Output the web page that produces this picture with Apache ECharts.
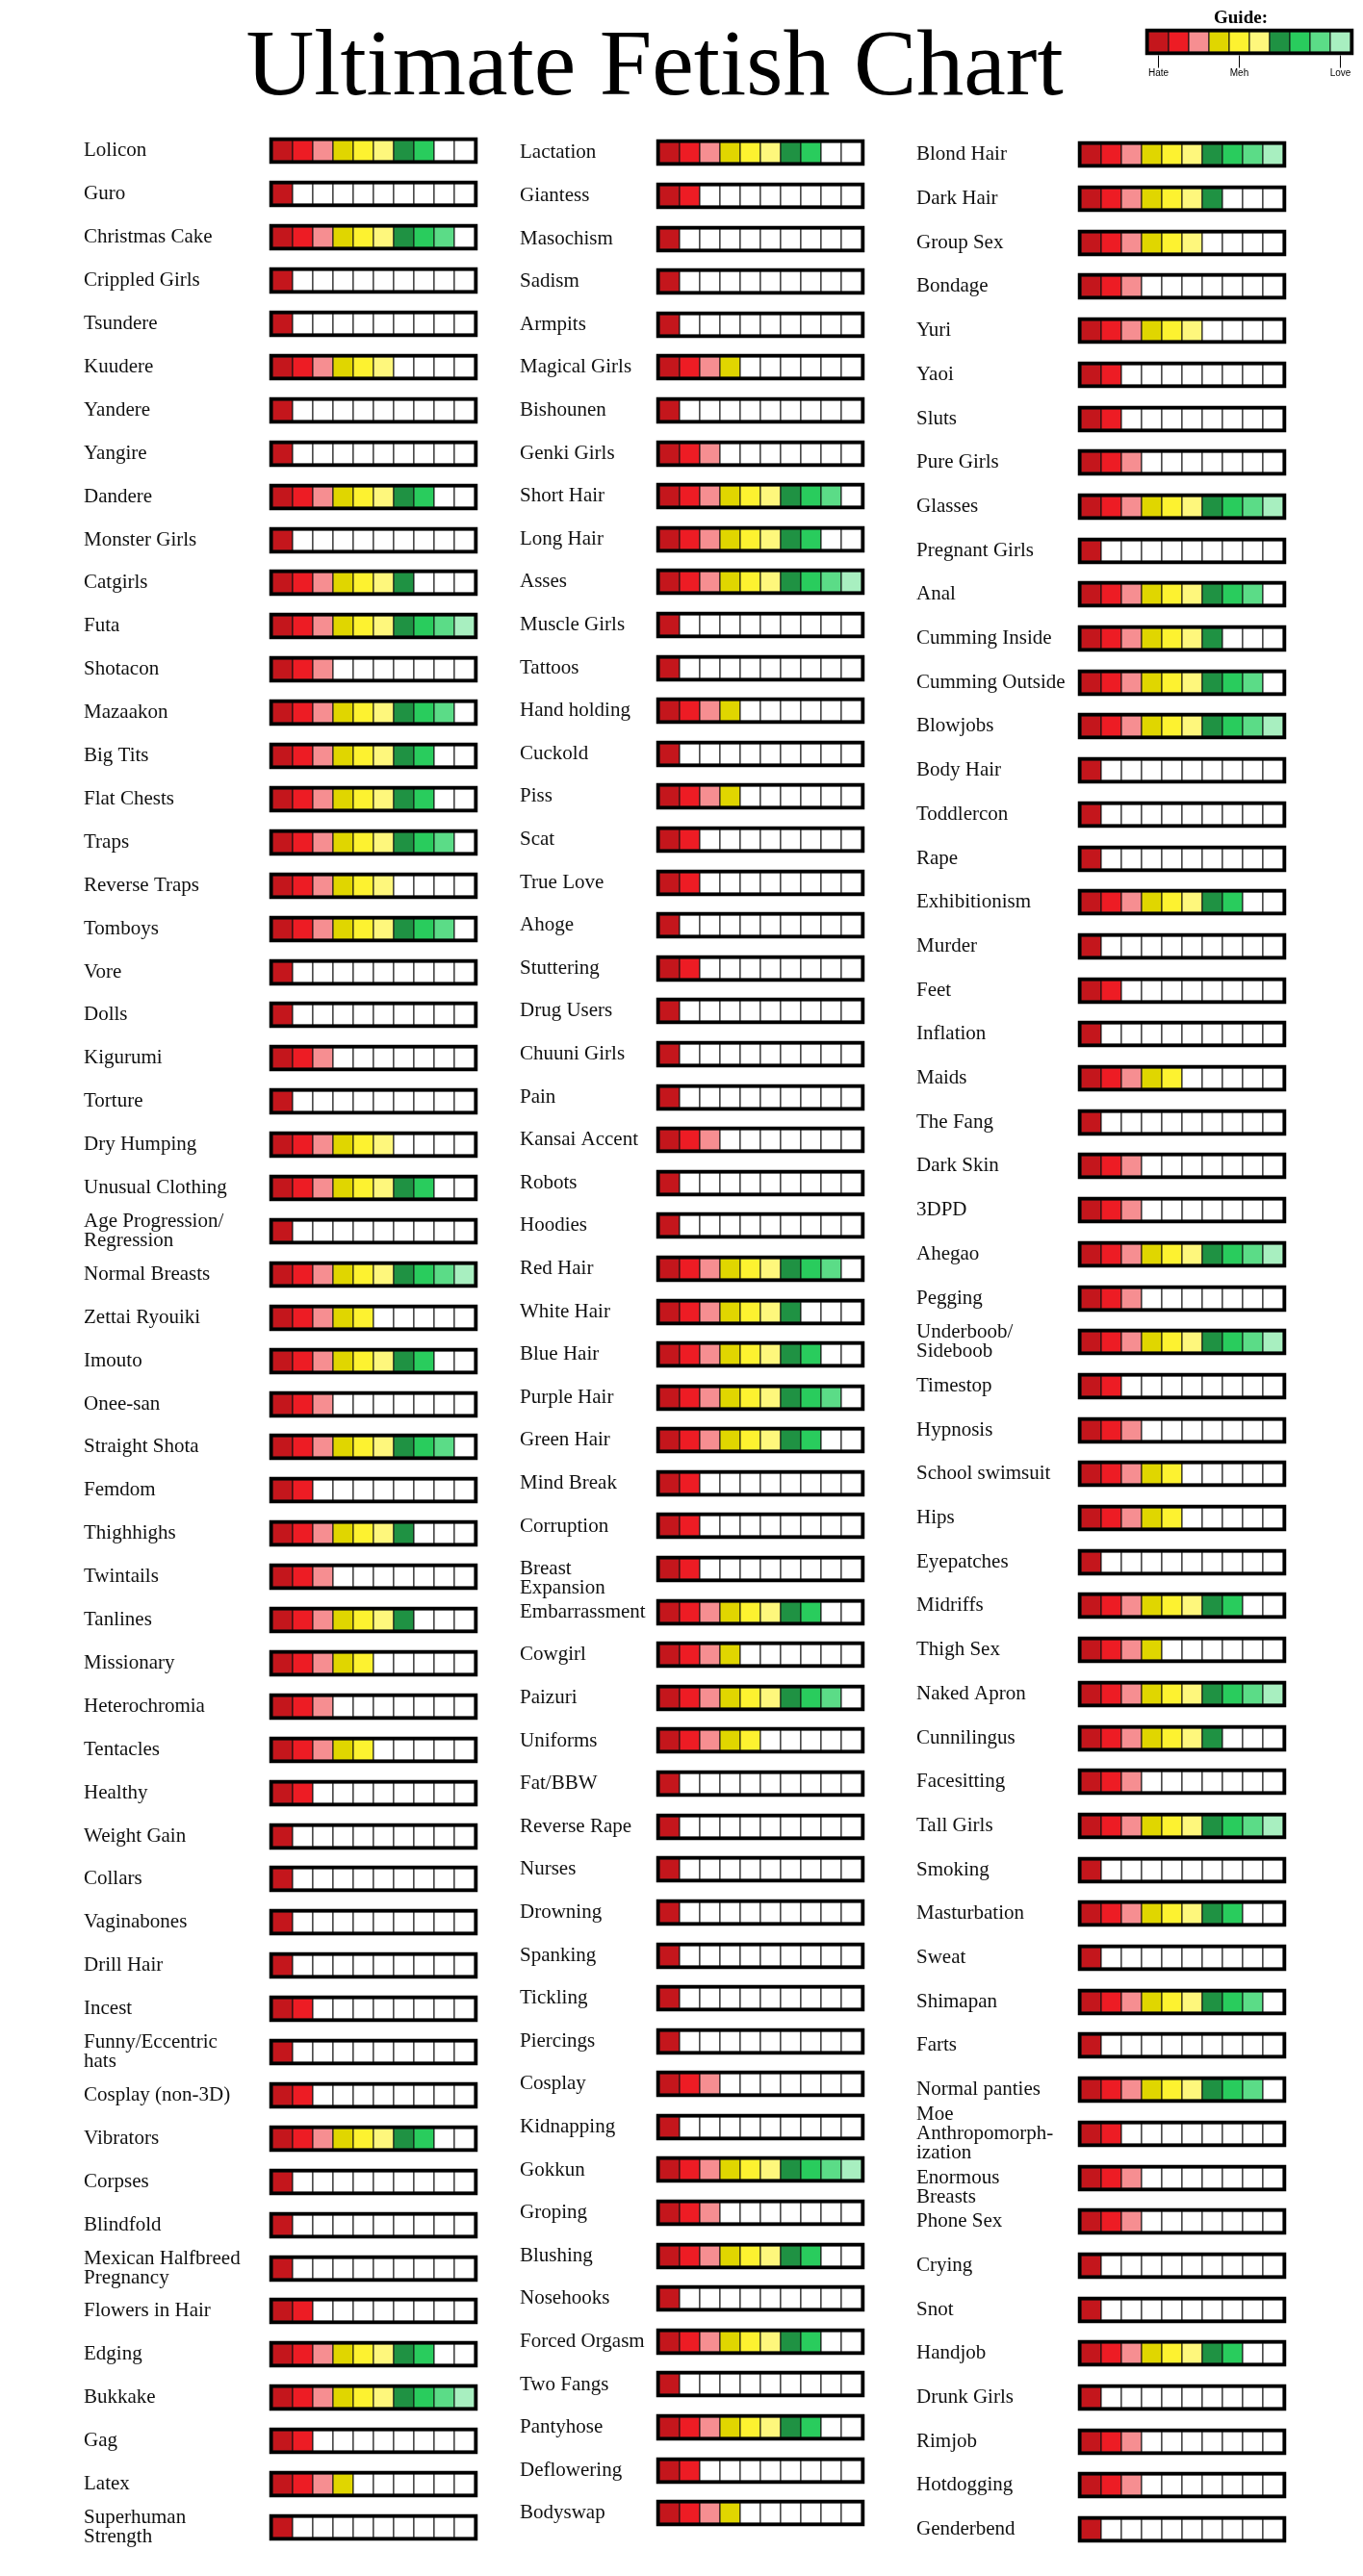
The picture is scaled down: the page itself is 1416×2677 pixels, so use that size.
<!DOCTYPE html>
<html>
<head>
<meta charset="utf-8">
<script src="https://cdn.jsdelivr.net/npm/echarts@6/dist/echarts.min.js"></script>
<style>
html,body{margin:0;padding:0;background:#fff;}
#chart{width:1416px;height:2677px;}
</style>
</head>
<body>
<div id="chart"></div>
<script>
// ---------- DATA ----------
const col1Labels = ["Lolicon","Guro","Christmas Cake","Crippled Girls","Tsundere","Kuudere","Yandere","Yangire","Dandere","Monster Girls","Catgirls","Futa","Shotacon","Mazaakon","Big Tits","Flat Chests","Traps","Reverse Traps","Tomboys","Vore","Dolls","Kigurumi","Torture","Dry Humping","Unusual Clothing","Age Progression/\nRegression","Normal Breasts","Zettai Ryouiki","Imouto","Onee-san","Straight Shota","Femdom","Thighhighs","Twintails","Tanlines","Missionary","Heterochromia","Tentacles","Healthy","Weight Gain","Collars","Vaginabones","Drill Hair","Incest","Funny/Eccentric\nhats","Cosplay (non-3D)","Vibrators","Corpses","Blindfold","Mexican Halfbreed\nPregnancy","Flowers in Hair","Edging","Bukkake","Gag","Latex","Superhuman\nStrength"];
const col1Values = [8,1,9,1,1,6,1,1,8,1,7,10,3,9,8,8,9,6,9,1,1,3,1,6,8,1,10,5,8,3,9,2,7,3,7,5,3,5,2,1,1,1,1,2,1,2,8,1,1,1,2,8,10,2,4,1];

const col2Labels = ["Lactation","Giantess","Masochism","Sadism","Armpits","Magical Girls","Bishounen","Genki Girls","Short Hair","Long Hair","Asses","Muscle Girls","Tattoos","Hand holding","Cuckold","Piss","Scat","True Love","Ahoge","Stuttering","Drug Users","Chuuni Girls","Pain","Kansai Accent","Robots","Hoodies","Red Hair","White Hair","Blue Hair","Purple Hair","Green Hair","Mind Break","Corruption","Breast\nExpansion","Embarrassment","Cowgirl","Paizuri","Uniforms","Fat/BBW","Reverse Rape","Nurses","Drowning","Spanking","Tickling","Piercings","Cosplay","Kidnapping","Gokkun","Groping","Blushing","Nosehooks","Forced Orgasm","Two Fangs","Pantyhose","Deflowering","Bodyswap"];
const col2Values = [8,2,1,1,1,4,1,3,9,8,10,1,1,4,1,4,2,2,1,2,1,1,1,3,1,1,9,7,8,9,8,2,2,2,8,4,9,5,1,1,1,1,1,1,1,3,1,10,3,8,1,8,1,8,2,4];

const col3Labels = ["Blond Hair","Dark Hair","Group Sex","Bondage","Yuri","Yaoi","Sluts","Pure Girls","Glasses","Pregnant Girls","Anal","Cumming Inside","Cumming Outside","Blowjobs","Body Hair","Toddlercon","Rape","Exhibitionism","Murder","Feet","Inflation","Maids","The Fang","Dark Skin","3DPD","Ahegao","Pegging","Underboob/\nSideboob","Timestop","Hypnosis","School swimsuit","Hips","Eyepatches","Midriffs","Thigh Sex","Naked Apron","Cunnilingus","Facesitting","Tall Girls","Smoking","Masturbation","Sweat","Shimapan","Farts","Normal panties","Moe\nAnthropomorph-\nization","Enormous\nBreasts","Phone Sex","Crying","Snot","Handjob","Drunk Girls","Rimjob","Hotdogging","Genderbend"];
const col3Values = [10,7,6,3,6,2,2,3,10,1,9,7,9,10,1,1,1,8,1,2,1,5,1,3,3,10,3,10,2,3,5,5,1,8,4,10,7,3,10,1,8,1,9,1,9,2,3,3,1,1,8,1,3,3,1];

const guideLabels = ["Guide"];
const guideValues = [10];
const guideTickLevels = [1, 5, 10];
const guideTickLabels = ["Hate", "Meh", "Love"];

const levelColors = ["#c4161c","#ed1c24","#f68e91","#e0d600","#fdf230","#fef77c","#1f9243","#29cc5d","#5bdc87","#a8efc0"];
const MAX_LEVEL = 10;

// labels whose first line sits level with the bar (layout only)
const topAnchored = new Set(["Breast\nExpansion", "Enormous\nBreasts"]);
function labelFormatter(v) {
  if (topAnchored.has(v)) return '\n'.repeat(v.split('\n').length - 1) + v;
  return v;
}

// ---------- RENDER ----------
const CELL_H = 21;
function renderRating(params, api) {
  const rating = api.value(0);
  const idx = api.value(1);
  const start = api.coord([0, idx]);
  const end = api.coord([MAX_LEVEL, idx]);
  const cw = (end[0] - start[0]) / MAX_LEVEL;
  const y0 = Math.round(start[1] - CELL_H / 2);
  const children = [];
  for (let k = 0; k < MAX_LEVEL; k++) {
    children.push({
      type: 'rect',
      shape: { x: start[0] + k * cw, y: y0, width: cw, height: CELL_H },
      style: { fill: k < rating ? levelColors[k] : '#ffffff', stroke: '#111', lineWidth: 1 }
    });
  }
  children.push({
    type: 'rect',
    shape: { x: start[0] - 1.5, y: y0 - 1.5, width: MAX_LEVEL * cw + 3, height: CELL_H + 3 },
    style: { fill: 'none', stroke: '#000', lineWidth: 3.5 }
  });
  return { type: 'group', children };
}

function renderTick(params, api) {
  const lvl = api.value(0);
  const p = api.coord([lvl - 0.5, 0]);
  return {
    type: 'group',
    children: [
      { type: 'line', shape: { x1: p[0], y1: p[1] + 14, x2: p[0], y2: p[1] + 27 }, style: { stroke: '#000', lineWidth: 1 } },
      { type: 'text', style: { x: p[0], y: p[1] + 33, text: guideTickLabels[params.dataIndex], textAlign: 'center', textVerticalAlign: 'middle', fontFamily: 'Liberation Sans', fontSize: 10, fill: '#000' } }
    ]
  };
}

const columns = [
  { labels: col1Labels, values: col1Values, left: 283, labelX: 87, top: 134.5, rowH: 44.9 },
  { labels: col2Labels, values: col2Values, left: 685, labelX: 540, top: 136.5, rowH: 44.6 },
  { labels: col3Labels, values: col3Values, left: 1123, labelX: 952, top: 138, rowH: 45.7 }
];

const grid = [], xAxis = [], yAxis = [], series = [];
columns.forEach((c, i) => {
  grid.push({ left: c.left, top: c.top, width: 210, height: c.rowH * c.labels.length, containLabel: false });
  xAxis.push({ gridIndex: i, type: 'value', min: 0, max: MAX_LEVEL, show: false });
  yAxis.push({
    gridIndex: i, type: 'category', data: c.labels, inverse: true,
    axisLine: { show: false }, axisTick: { show: false }, splitLine: { show: false },
    axisLabel: { interval: 0, align: 'left', margin: c.left - c.labelX, fontFamily: 'Liberation Serif', fontSize: 21, lineHeight: 20, color: '#111', formatter: labelFormatter }
  });
  series.push({
    type: 'custom', xAxisIndex: i, yAxisIndex: i, renderItem: renderRating,
    encode: { x: 0, y: 1 }, silent: true,
    data: c.values.map((v, j) => [v, j])
  });
});

// guide grid
grid.push({ left: 1193, top: 30, width: 210, height: 27 });
xAxis.push({ gridIndex: 3, type: 'value', min: 0, max: MAX_LEVEL, show: false });
yAxis.push({ gridIndex: 3, type: 'category', data: guideLabels, show: false });
series.push({
  type: 'custom', xAxisIndex: 3, yAxisIndex: 3, renderItem: renderRating, encode: { x: 0, y: 1 }, silent: true,
  data: guideValues.map((v, j) => [v, j])
});
series.push({
  type: 'custom', xAxisIndex: 3, yAxisIndex: 3, renderItem: renderTick, encode: { x: 0, y: 1 }, silent: true,
  data: guideTickLevels.map(l => [l, 0])
});

const chart = echarts.init(document.getElementById('chart'), null, { renderer: 'canvas' });
chart.setOption({
  backgroundColor: '#ffffff',
  animation: false,
  grid, xAxis, yAxis, series,
  graphic: [
    { type: 'text', x: 680, y: 72, style: { text: 'Ultimate Fetish Chart', textAlign: 'center', textVerticalAlign: 'middle', fontFamily: 'Liberation Serif', fontSize: 98, fill: '#000' } },
    { type: 'text', x: 1289, y: 19, style: { text: 'Guide:', textAlign: 'center', textVerticalAlign: 'middle', fontFamily: 'Liberation Serif', fontWeight: 'bold', fontSize: 19, fill: '#000' } }
  ]
});
</script>
</body>
</html>
